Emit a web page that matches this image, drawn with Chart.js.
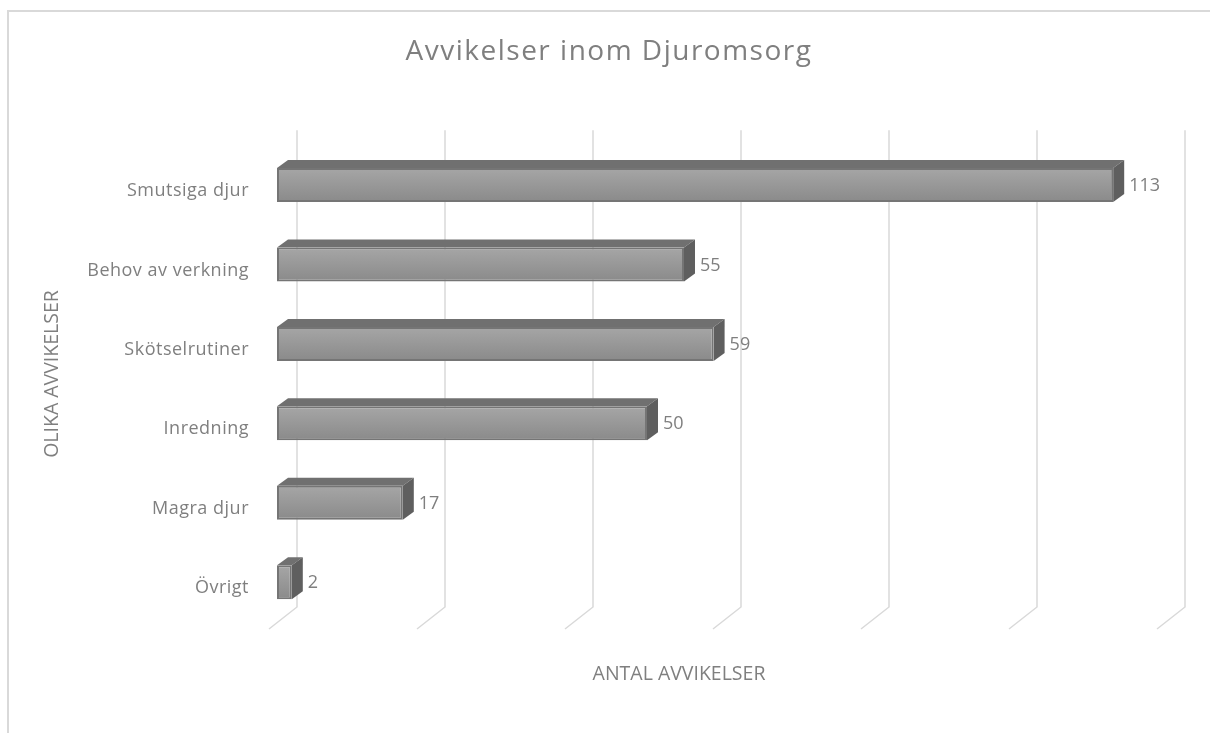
<!DOCTYPE html>
<html><head><meta charset="utf-8">
<style>html,body{margin:0;background:#fff}canvas{display:block}</style>
<script src="https://cdn.jsdelivr.net/npm/chart.js@4/dist/chart.umd.min.js"></script>
</head><body><canvas id="c" width="1210" height="733"></canvas>
<script>
const categories = ["Smutsiga djur","Behov av verkning","Skötselrutiner","Inredning","Magra djur","Övrigt"];
const values = [113,55,59,50,17,2];
const chartTitle = "Avvikelser inom Djuromsorg";
const xTitle = "ANTAL AVVIKELSER";
const yTitle = "OLIKA AVVIKELSER";

const FONT = '"Open Sans"';
const TEXT = '#7f7f7f';
const DX = 11, DY = 8;

const frame = {
  id:'frame',
  beforeDraw(c){
    const x=c.ctx; x.save();
    x.strokeStyle='#d9d9d9'; x.lineWidth=2;
    x.beginPath(); x.moveTo(8,733); x.lineTo(8,11); x.lineTo(1210,11); x.stroke();
    x.restore();
    x.letterSpacing='1.5px';
    const s=c.scales.y;
    if(!s._spaced){
      s._spaced=true;
      const drawLabels=s.drawLabels;
      s.drawLabels=function(a){
        const prev=x.letterSpacing;
        x.letterSpacing='0.5px';
        drawLabels.call(this,a);
        x.letterSpacing=prev;
      };
    }
  }
};
const depth3d = {
  id:'depth3d',
  beforeDatasetsDraw(c){
    const x=c.ctx, s=c.scales.x, a=c.chartArea;
    x.save();
    x.strokeStyle='#d9d9d9'; x.lineWidth=1.5;
    s.ticks.forEach(t=>{
      const p=s.getPixelForValue(t.value);
      x.beginPath();
      x.moveTo(p+20,a.top-15);
      x.lineTo(p+20,a.bottom-15);
      x.lineTo(p-8,a.bottom+7);
      x.stroke();
    });
    c.getDatasetMeta(0).data.forEach(b=>{
      const t=b.y-b.height/2, h=b.height, l=b.base, r=b.x;
      x.fillStyle='#707070';
      x.beginPath(); x.moveTo(l,t); x.lineTo(l+DX,t-DY); x.lineTo(r+DX,t-DY); x.lineTo(r,t); x.closePath(); x.fill();
      x.fillStyle='#5f5f5f';
      x.beginPath(); x.moveTo(r,t); x.lineTo(r+DX,t-DY); x.lineTo(r+DX,t+h-DY); x.lineTo(r,t+h); x.closePath(); x.fill();
    });
    x.restore();
  },
  afterDatasetsDraw(c){
    const x=c.ctx;
    x.save();
    x.letterSpacing='0px';
    x.fillStyle=TEXT; x.font='18px '+FONT; x.textAlign='left'; x.textBaseline='middle';
    c.getDatasetMeta(0).data.forEach((b,i)=>x.fillText(String(values[i]),b.x+16,b.y+1));
    x.font='19.5px '+FONT; x.textAlign='center';
    x.fillText(c.options.scales.x.title.text,679,674);
    x.translate(52,374); x.rotate(-Math.PI/2);
    x.fillText(c.options.scales.y.title.text,0,0);
    x.restore();
  }
};

new Chart(document.getElementById('c'),{
  type:'bar',
  data:{labels:categories,datasets:[{
    data:values,
    borderColor:'#757575',
    borderWidth:2,
    borderSkipped:false,
    barPercentage:0.428,
    categoryPercentage:1,
    backgroundColor(ctx){
      const s=ctx.chart.scales.y;
      const m=s?s.getPixelForValue(ctx.dataIndex):NaN;
      if(!Number.isFinite(m)) return '#999';
      const g=ctx.chart.ctx.createLinearGradient(0,m-17,0,m+17);
      g.addColorStop(0,'#a6a6a6'); g.addColorStop(1,'#8a8a8a');
      return g;
    }
  }]},
  options:{
    indexAxis:'y',responsive:false,animation:false,
    layout:{padding:{left:53,right:45}},
    plugins:{
      legend:{display:false},tooltip:{enabled:false},
      title:{display:true,text:chartTitle,color:TEXT,
        font:{family:FONT,size:28,weight:'normal'},padding:{top:35.2,bottom:76.45}}
    },
    scales:{
      x:{min:0,max:120,ticks:{display:false,stepSize:20},grid:{display:false},border:{display:false},
        title:{display:false,text:xTitle},
        afterFit(s){s.height=111;}},
      y:{ticks:{color:TEXT,font:{family:FONT,size:18},padding:28,labelOffset:6},
        grid:{display:false,drawTicks:false},border:{display:false},
        title:{display:false,text:yTitle},
        afterFit(s){s.width=224;}}
    }
  },
  plugins:[frame,depth3d]
});
</script></body></html>
